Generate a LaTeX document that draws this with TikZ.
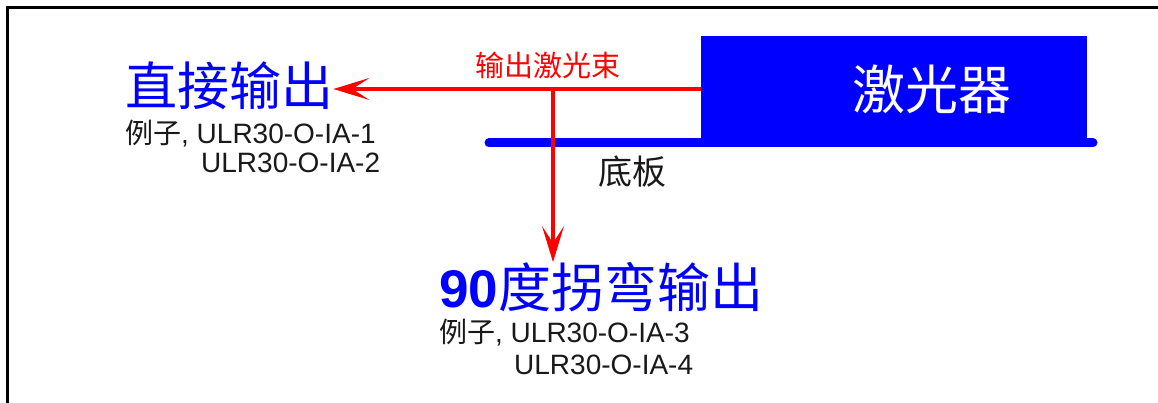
\documentclass[tikz,border=0pt]{standalone}
\usepackage{fontspec}
\setmainfont{Liberation Sans}
\newfontfamily\cjk{Noto Sans CJK SC}
\usetikzlibrary{arrows.meta}

\begin{document}
\begin{tikzpicture}[x=1pt,y=-1pt,
  beam/.style={draw=red,line width=3.5pt,-{Stealth[length=36pt,width=22pt,inset=17pt,line width=1pt]}},
  title/.style={text=blue,inner sep=0pt,anchor=west,font=\fontsize{52}{56}\selectfont\cjk},
  example/.style={text=black!90,inner sep=0pt,anchor=west,font=\fontsize{28}{32}\selectfont}]
\useasboundingbox (0,0) rectangle (1158,403);
% frame
\draw[line width=3pt] (7.5,403) -- (7.5,7.5) -- (1158,7.5);
% laser and base plate
\draw[blue,line width=9pt,line cap=round] (489,143) -- (1093,143);
\node[fill=blue,minimum width=386pt,minimum height=103pt,inner sep=0pt] (laser) at (894,87.5) {};
\node[text=white,font=\fontsize{53}{58}\selectfont\cjk] (lasertext) at (932,89) {激光器};
\node[text=black!90,font=\fontsize{34}{38}\selectfont\cjk] (plate) at (632,172) {底板};
% outputs
\node[title] (direct) at (125,86) {直接输出};
\node[example] (ex1) at (125,134) {{\cjk 例子}, ULR30-O-IA-1};
\node[example] (ex2) at (201,163) {ULR30-O-IA-2};
\node[title,font=\fontsize{53}{58}\selectfont\cjk] (bent) at (439,287) {{\rmfamily\bfseries 90}度拐弯输出};
\node[example] (ex3) at (439,333) {{\cjk 例子}, ULR30-O-IA-3};
\node[example] (ex4) at (514,365) {ULR30-O-IA-4};
% beam
\coordinate (out) at (701,89);
\coordinate (split) at (553,89);
\node[text=red,font=\fontsize{29}{32}\selectfont\cjk] (beamlabel) at (548,65) {输出激光束};
\draw[beam] (out) -- (direct.east |- split);
\draw[beam] (split) -- (split |- bent.north);
\end{tikzpicture}
\end{document}
